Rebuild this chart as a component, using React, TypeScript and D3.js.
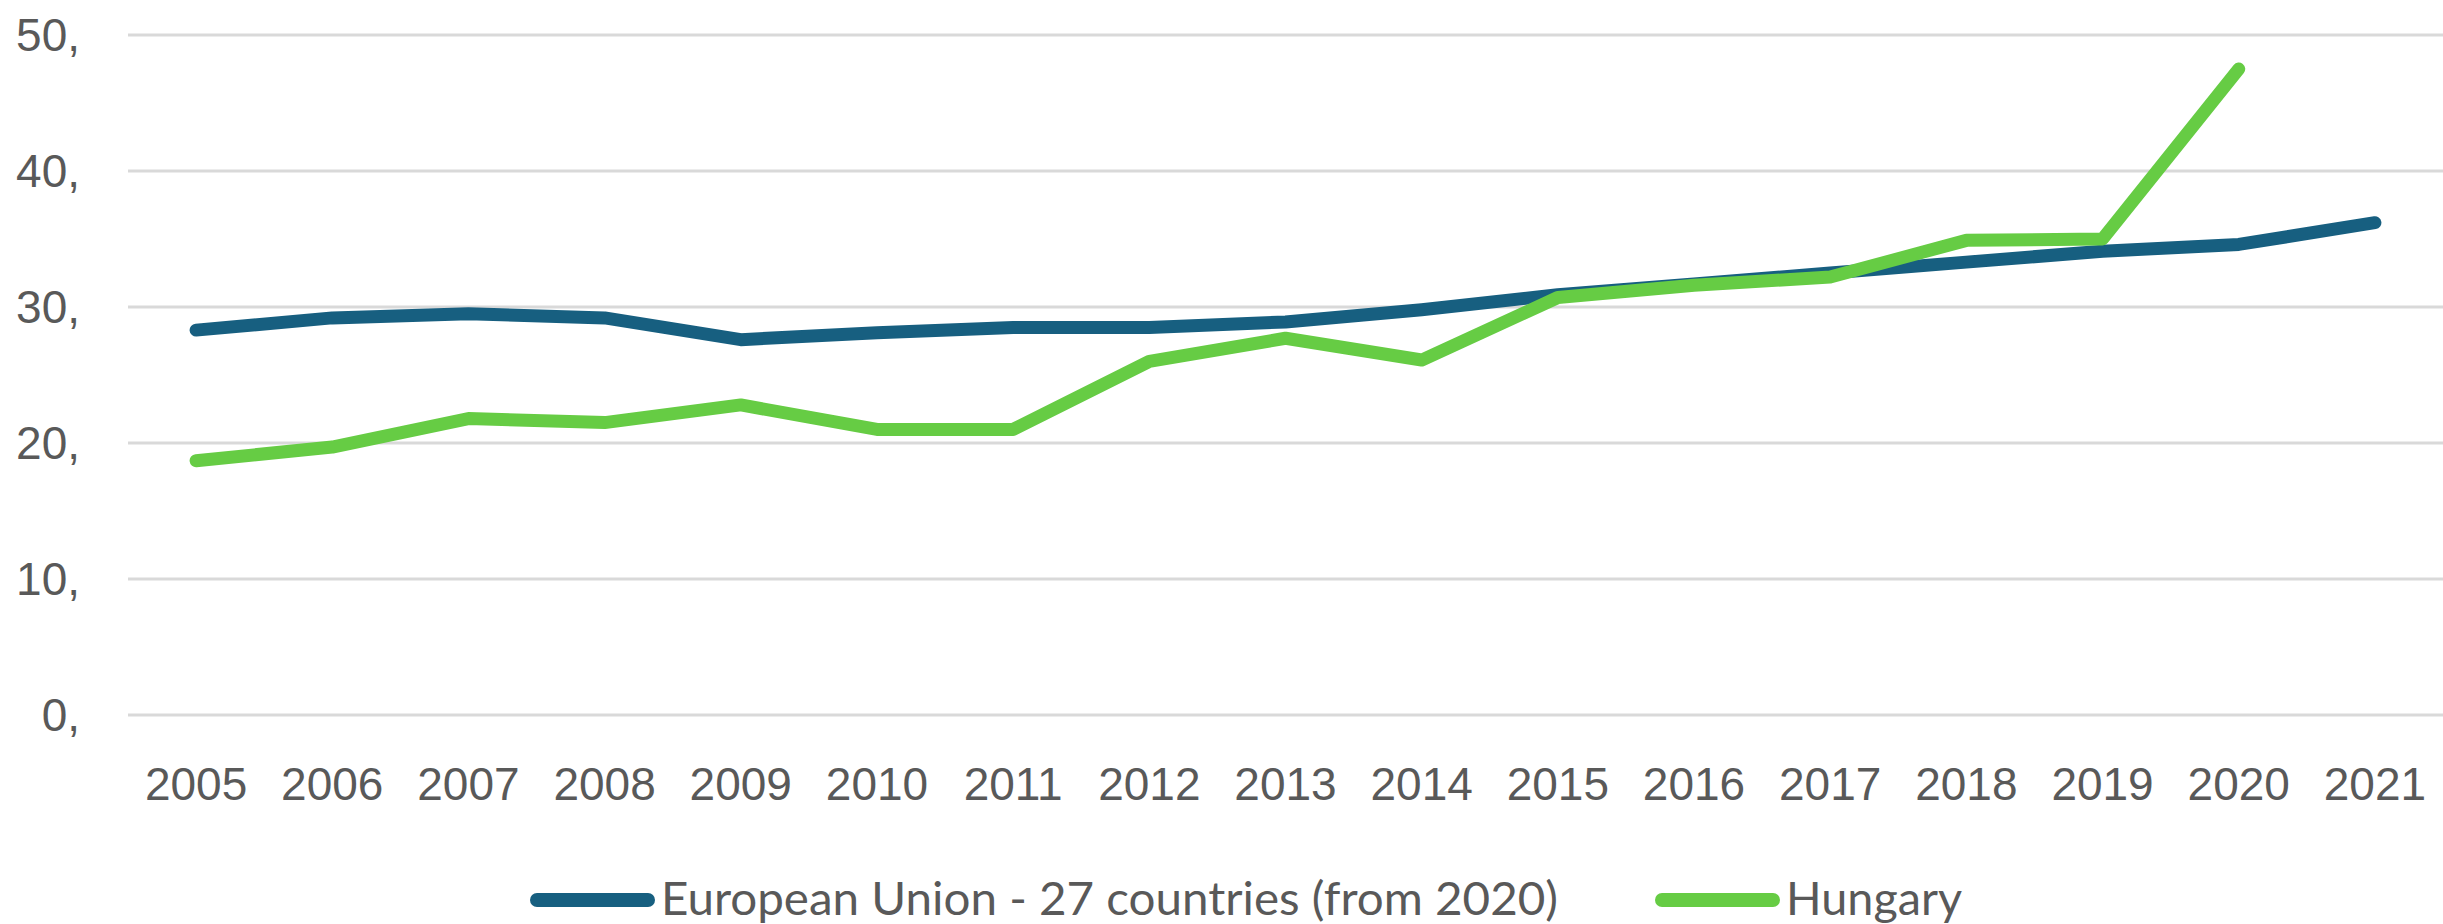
import { useEffect } from 'react'
import * as d3 from 'd3'

const years = ['2005', '2006', '2007', '2008', '2009', '2010', '2011', '2012', '2013', '2014', '2015', '2016', '2017', '2018', '2019', '2020', '2021']
const euValues = [28.3, 29.2, 29.5, 29.2, 27.6, 28.1, 28.5, 28.5, 28.9, 29.8, 30.9, 31.7, 32.5, 33.3, 34.1, 34.6, 36.2]
const huValues = [18.7, 19.7, 21.8, 21.5, 22.8, 21.0, 21.0, 26.0, 27.7, 26.1, 30.7, 31.6, 32.2, 34.9, 35.0, 47.5, null]
const yTicks = [0, 10, 20, 30, 40, 50]
const seriesNames = ['European Union - 27 countries (from 2020)', 'Hungary']
const seriesColors = ['#175f80', '#66cc44']

const W = 2443
const H = 924
const plot = { left: 128, right: 2443, top: 35, bottom: 715 }

export default function App() {
  useEffect(() => {
    document.body.style.margin = '0'
    document.body.style.overflow = 'hidden'
  }, [])

  const x = d3.scalePoint<string>().domain(years).range([plot.left, plot.right]).padding(0.5)
  const y = d3.scaleLinear().domain([0, 50]).range([plot.bottom, plot.top])

  const line = d3.line<number | null>()
    .defined(d => d != null)
    .x((_, i) => x(years[i]) as number)
    .y(d => y(d as number))

  const series = [euValues, huValues]
  const axisFont = '"Liberation Sans", Arial, sans-serif'
  const legendFont = 'Lato, "Open Sans", sans-serif'
  const textColor = '#595959'

  // legend positions
  const legend = [
    { x0: 530, x1: 655, tx: 661, tw: 897 },
    { x0: 1655, x1: 1780, tx: 1786, tw: 176 },
  ]

  return (
    <svg width={W} height={H} style={{ display: 'block', background: '#fff' }}>
      {yTicks.map(t => (
        <g key={t}>
          <line x1={plot.left} x2={plot.right} y1={y(t)} y2={y(t)} stroke="#d9d9d9" strokeWidth={3} />
          <text x={80} y={y(t) + 16} textAnchor="end" fontFamily={axisFont} fontSize={46} fill={textColor}>
            {t},
          </text>
        </g>
      ))}
      {years.map(yr => (
        <text key={yr} x={x(yr)} y={800} textAnchor="middle" fontFamily={axisFont} fontSize={46} fill={textColor}>
          {yr}
        </text>
      ))}
      {series.map((s, i) => (
        <path key={i} d={line(s) || ''} fill="none" stroke={seriesColors[i]} strokeWidth={13}
          strokeLinejoin="round" strokeLinecap="round" />
      ))}
      {legend.map((l, i) => (
        <g key={i}>
          <line x1={l.x0 + 7} x2={l.x1 - 7} y1={900} y2={900} stroke={seriesColors[i]} strokeWidth={14} strokeLinecap="round" />
          <text x={l.tx} y={915} fontFamily={legendFont} fontSize={46} fill={textColor}
            textLength={l.tw} lengthAdjust="spacingAndGlyphs">
            {seriesNames[i]}
          </text>
        </g>
      ))}
    </svg>
  )
}
